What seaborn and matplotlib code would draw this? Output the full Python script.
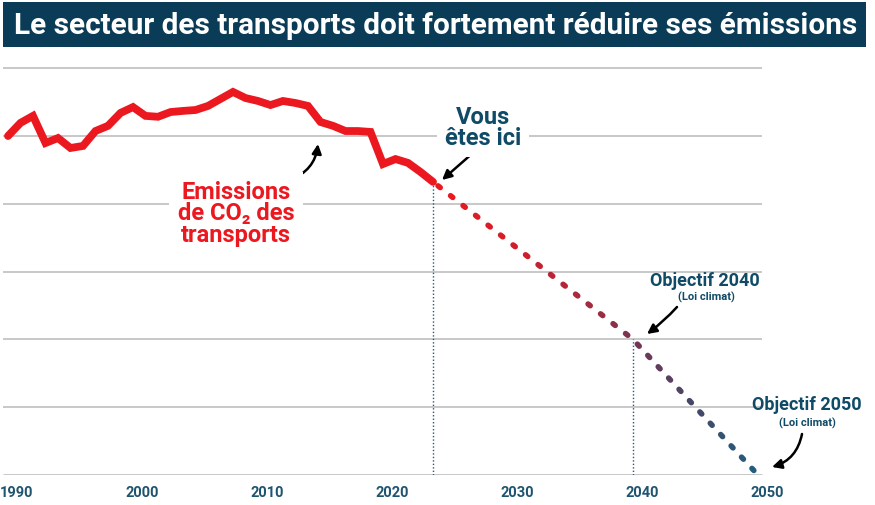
import numpy as np
import matplotlib.pyplot as plt
import seaborn as sns
from matplotlib.collections import LineCollection
from matplotlib.colors import LinearSegmentedColormap
from matplotlib.patches import Rectangle
from matplotlib.transforms import ScaledTranslation

# Données (Mt CO2)
annees = list(range(1990, 2025))
emissions = [15.0, 15.58, 15.89, 14.69, 14.91, 14.47, 14.56, 15.22, 15.45, 16.02,
             16.28, 15.89, 15.85, 16.06, 16.11, 16.15, 16.33, 16.64, 16.95, 16.68,
             16.55, 16.37, 16.55, 16.46, 16.33, 15.62, 15.45, 15.22, 15.22, 15.18,
             13.76, 13.98, 13.81, 13.41, 12.97]

annees_objectif = [2024, 2040, 2050]
valeurs_objectif = [12.97, 6.0, 0.0]

ticks_annees = [1990, 2000, 2010, 2020, 2030, 2040, 2050]
grille = [0, 3, 6, 9, 12, 15, 18]

ROUGE = '#ec1820'
BLEU = '#0f4a66'
W, H = 875, 506

sns.set_style('white')
plt.rcParams['font.family'] = ['Roboto', 'DejaVu Sans']


def px(x, y):
    # position en pixels (origine en haut à gauche) -> fraction de figure
    return (x / W, 1 - y / H)


fig = plt.figure(figsize=(W / 100, H / 100), dpi=100)
ax = fig.add_axes([0, 30 / H, 1, 420 / H])
ax.set_xlim(1990 - 8 / 12.5, 1990 + 867 / 12.5)
ax.set_ylim(0, 420 / 22.6)

# grille
ax.hlines(grille[1:], 1989.6, 2050.3, color='#c4c4c4', lw=1.3, zorder=0)
ax.hlines(grille[0], 1989.6, 2050.3, color='#b8b8b8', lw=1.8, zorder=0)

# lignes verticales pointillées
ax.vlines(annees_objectif[:2], 0, valeurs_objectif[:2], color='#1f5a7a',
          lw=1.0, linestyles=(0, (1, 1.5)), zorder=1)

# émissions historiques
sns.lineplot(x=annees, y=emissions, ax=ax, color=ROUGE, lw=5.6, zorder=3)
ax.lines[-1].set_solid_capstyle('round')
ax.lines[-1].set_solid_joinstyle('miter')

# trajectoire en pointillés avec dégradé de couleur
cmap = LinearSegmentedColormap.from_list('traj', [
    (0.0, '#ec1820'), (0.25, '#d41d2a'), (0.5, '#a02b40'),
    (0.615, '#773553'), (0.8, '#464768'), (1.0, '#1f5f82')])
a0, a1 = annees_objectif[0], annees_objectif[-1]
sx, sy = 12.5, 22.6
segments, couleurs = [], []
for (xa, ya), (xb, yb) in zip(zip(annees_objectif[:-1], valeurs_objectif[:-1]),
                              zip(annees_objectif[1:], valeurs_objectif[1:])):
    longueur = np.hypot((xb - xa) * sx, (yb - ya) * sy)
    n = int(round(longueur / 15.5))
    t = np.linspace(0, 1, n + 1)
    xs = xa + (xb - xa) * t
    ys = ya + (yb - ya) * t
    for i in range(n):
        segments.append([(xs[i], ys[i]), (xs[i + 1], ys[i + 1])])
        couleurs.append(cmap(((xs[i] + xs[i + 1]) / 2 - a0) / (a1 - a0)))
lc = LineCollection(segments, colors=couleurs, linewidths=4.0,
                    linestyles=[(1.66, (0.5, 2.32))], capstyle='round', zorder=3)
ax.add_collection(lc)

# axes
sns.despine(ax=ax, left=True, bottom=True)
ax.set_yticks([])
ax.set_xticks(ticks_annees)
ax.set_xticklabels([str(a) for a in ticks_annees], fontsize=10.5, fontweight='bold',
                   color='#1f5470', family=['Liberation Sans Narrow', 'Roboto'])
ax.tick_params(axis='x', length=0, pad=7)
decalage = ScaledTranslation(9 / 100, 0, fig.dpi_scale_trans)
for lab in ax.get_xticklabels():
    lab.set_transform(lab.get_transform() + decalage)
ax.set_xlabel('')
ax.set_ylabel('')
ax.patch.set_alpha(0)

# titre
fig.patches.append(Rectangle((3 / W, 1 - 48 / H), 863 / W, 45 / H,
                             transform=fig.transFigure, fc='#0b3c57', ec='none'))
fig.text(*px(14, 26), 'Le secteur des transports doit fortement réduire ses émissions',
         ha='left', va='center', color='white', fontsize=21.4, fontweight='bold',
         family=['Liberation Sans Narrow', 'Roboto'])

# annotations
boite = dict(fc='white', ec='none', pad=6)
fig.text(*px(236, 214), 'Emissions\nde CO₂ des\ntransports', ha='center', va='center',
         color=ROUGE, fontsize=17, fontweight='bold', linespacing=0.92, bbox=boite)
fig.text(*px(483, 128), 'Vous\nêtes ici', ha='center', va='center',
         color=BLEU, fontsize=17, fontweight='bold', linespacing=0.9, bbox=boite)
fig.text(*px(705, 281), 'Objectif 2040', ha='center', va='center',
         color=BLEU, fontsize=13, fontweight='bold')
fig.text(*px(706, 297), '(Loi climat)', ha='center', va='center',
         color=BLEU, fontsize=8, fontweight='bold')
fig.text(*px(807, 405), 'Objectif 2050', ha='center', va='center',
         color=BLEU, fontsize=13, fontweight='bold')
fig.text(*px(807, 423), '(Loi climat)', ha='center', va='center',
         color=BLEU, fontsize=8, fontweight='bold')


def fleche(debut, fin, rad):
    ax.annotate('', xy=(fin[0], H - fin[1]), xytext=(debut[0], H - debut[1]),
                xycoords='figure pixels', textcoords='figure pixels',
                arrowprops=dict(arrowstyle='-|>', color='black', lw=1.8,
                                mutation_scale=14, shrinkA=0, shrinkB=0,
                                connectionstyle=f'arc3,rad={rad}'))


fleche((290, 181), (318, 145), 0.3)
fleche((474, 153), (442, 181), 0.0)
fleche((677, 308), (647, 335), -0.05)
fleche((802, 435), (772, 468), -0.3)

fig.savefig('out.png', dpi=100)
